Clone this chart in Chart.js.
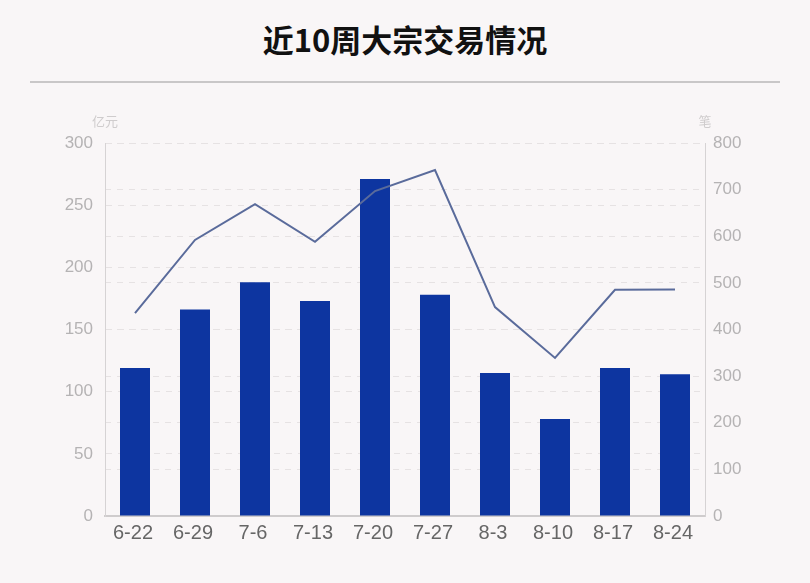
<!DOCTYPE html>
<html>
<head>
<meta charset="utf-8">
<script src="https://cdn.jsdelivr.net/npm/chart.js@4"></script>
<style>
  html, body { margin: 0; padding: 0; background: #f9f6f7; }
  #wrap { position: relative; width: 810px; height: 583px; }
  #title {
    position: absolute; left: 0; top: 16px; width: 810px; text-align: center;
    font: bold 31px "Noto Sans CJK SC", sans-serif; color: #111;
  }
  #rule { position: absolute; left: 30px; top: 81px; width: 750px; height: 2px; background: #c9c7c8; }
  #chart { position: absolute; left: 0; top: 0; }
</style>
</head>
<body>
<div id="wrap">
  <div id="title">近10周大宗交易情况</div>
  <div id="rule"></div>
  <canvas id="chart" width="810" height="583"></canvas>
</div>
<script>
const weeks = ['6-22', '6-29', '7-6', '7-13', '7-20', '7-27', '8-3', '8-10', '8-17', '8-24'];
const amount = [119, 166, 188, 173, 271, 178, 115, 78, 119, 114];   // 亿元
const deals = [435, 592, 669, 588, 697, 742, 448, 339, 485, 486];   // 笔
const leftTicks = [0, 50, 100, 150, 200, 250, 300];
const rightTicks = [0, 100, 200, 300, 400, 500, 600, 700, 800];

const unitLabels = {
  id: 'unitLabels',
  afterDraw(chart) {
    const { ctx, chartArea } = chart;
    ctx.save();
    ctx.font = '13px "Noto Sans CJK SC", sans-serif';
    ctx.fillStyle = '#cfcccd';
    ctx.textBaseline = 'middle';
    ctx.textAlign = 'center';
    ctx.fillText('亿元', chartArea.left, 121);
    ctx.fillText('笔', chartArea.right, 121);
    ctx.restore();
  }
};

function loadChart() {
  const ctx = document.getElementById('chart').getContext('2d');
  new Chart(ctx, {
    data: {
      labels: weeks,
      datasets: [
        {
          type: 'line',
          data: deals,
          yAxisID: 'y1',
          borderColor: '#5a6b9b',
          borderWidth: 2,
          pointRadius: 0,
          tension: 0,
          order: 0,
        },
        {
          type: 'bar',
          data: amount,
          yAxisID: 'y',
          backgroundColor: '#0d35a0',
          barPercentage: 0.5,
          categoryPercentage: 1,
          order: 1,
        },
      ],
    },
    options: {
      responsive: false,
      animation: false,
      layout: { padding: { top: 143, bottom: 27, left: 0, right: 0 } },
      plugins: { legend: { display: false }, tooltip: { enabled: false } },
      scales: {
        x: {
          afterFit(scale) { scale.height = 40; },
          grid: { display: false, drawTicks: false },
          border: { color: '#cfcccd', width: 2 },
          ticks: { color: '#666', padding: 5, labelOffset: -2, font: { size: 20, family: 'Liberation Sans' } },
        },
        y: {
          position: 'left',
          min: 0,
          max: 300,
          afterFit(scale) { scale.width = 105; },
          afterBuildTicks(scale) { scale.ticks = leftTicks.map(v => ({ value: v })); },
          grid: { color: '#e6e2e3', drawTicks: false },
          border: { color: '#d6d3d4', dash: [6, 6] },
          ticks: { color: '#b5b3b4', padding: 12, font: { size: 17, family: 'Liberation Sans' } },
        },
        y1: {
          position: 'right',
          min: 0,
          max: 800,
          afterFit(scale) { scale.width = 105; },
          afterBuildTicks(scale) { scale.ticks = rightTicks.map(v => ({ value: v })); },
          grid: { color: '#e6e2e3', drawTicks: false },
          border: { color: '#d6d3d4', dash: [6, 6] },
          ticks: { color: '#b5b3b4', padding: 8, font: { size: 17, family: 'Liberation Sans' } },
        },
      },
    },
    plugins: [unitLabels],
  });
}

window.onload = loadChart;
</script>
</body>
</html>
